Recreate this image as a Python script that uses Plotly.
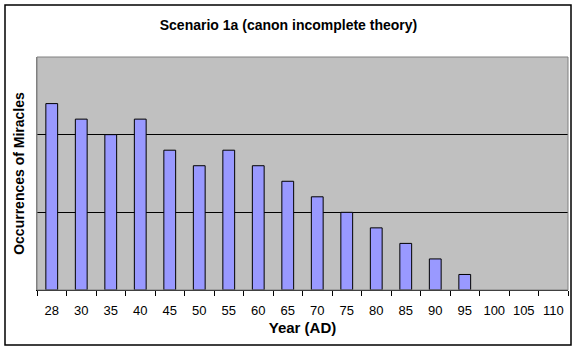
import plotly.graph_objects as go

years = ["28", "30", "35", "40", "45", "50", "55", "60", "65", "70", "75",
         "80", "85", "90", "95", "100", "105", "110"]
occurrences = [12, 11, 10, 11, 9, 8, 9, 8, 7, 6, 5, 4, 3, 2, 1, 0, 0, 0]
grid_values = [5, 10]

W, H = 577, 351
L, R, T, B = 37, 9, 57, 61
pw, ph = W - L - R, H - T - B

fig = go.Figure(go.Bar(
    x=years, y=occurrences,
    marker=dict(color="#9999FF",
                line=dict(color="black", width=[1 if v > 0 else 0 for v in occurrences])),
))

fig.update_layout(
    width=W, height=H,
    margin=dict(l=L, r=R, t=T, b=B),
    paper_bgcolor="white",
    plot_bgcolor="#C0C0C0",
    bargap=0.6,
    showlegend=False,
    font=dict(family="Liberation Sans, Arial", color="black"),
    title=dict(text="<b>Scenario 1a (canon incomplete theory)</b>",
               x=0.5, xref="container", xanchor="center",
               y=1 - 25 / H, yref="container", yanchor="middle",
               font=dict(size=14)),
)

fig.update_xaxes(
    type="category",
    tickson="boundaries", ticks="outside", ticklen=5, tickcolor="black",
    showgrid=False, showline=True, linecolor="black", linewidth=1,
    tickfont=dict(size=13), ticklabelstandoff=8, tickangle=0,
    title=dict(text="<b>Year (AD)</b>", font=dict(size=15), standoff=5),
)
fig.update_yaxes(
    range=[0, 15], tickvals=grid_values, showticklabels=False, ticks="",
    showgrid=True, gridcolor="black", gridwidth=1,
    zeroline=False, showline=True, linecolor="#808080", linewidth=1,
    title=dict(text="<b>Occurrences of Miracles</b>", font=dict(size=14), standoff=8),
)

# plot-area border (gray) and outer chart border (black)
fig.add_shape(type="rect", xref="paper", yref="paper", x0=0, x1=1, y0=0, y1=1,
              line=dict(color="#808080", width=1), layer="above")
fig.add_shape(type="rect", xref="paper", yref="paper",
              x0=(5 - L) / pw, x1=(571 - L) / pw,
              y0=(H - B - 345) / ph, y1=(H - B - 5) / ph,
              line=dict(color="black", width=1.5))

fig.write_html("out.html")
